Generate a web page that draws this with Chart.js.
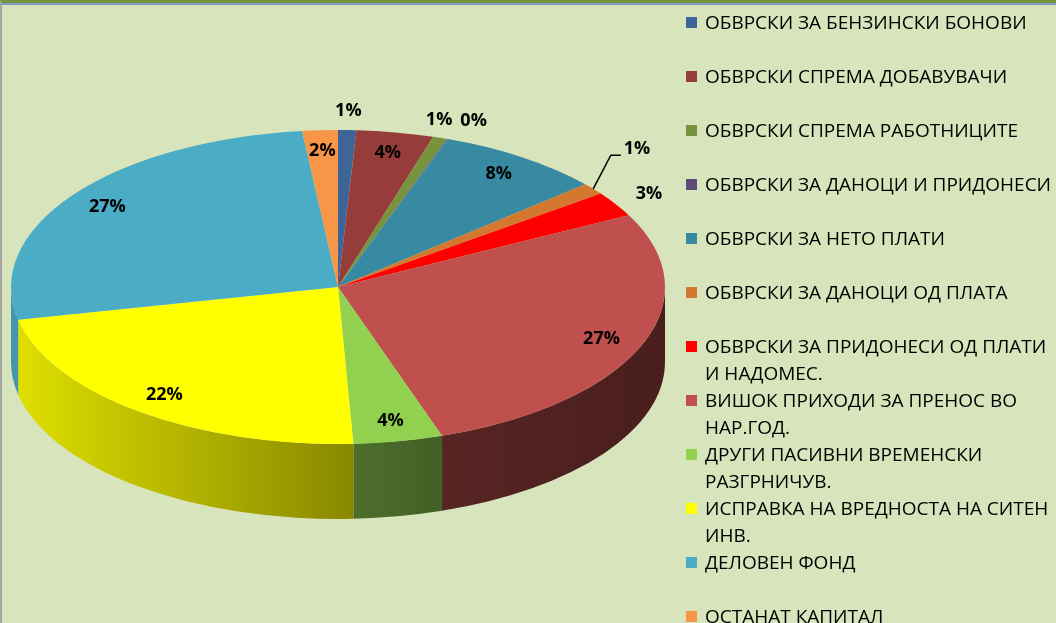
<!DOCTYPE html>
<html>
<head>
<meta charset="utf-8">
<script src="https://cdn.jsdelivr.net/npm/chart.js@4/dist/chart.umd.min.js"></script>
<style>
  html, body { margin: 0; padding: 0; }
  body { width: 1056px; height: 623px; overflow: hidden; background: #d8e4bc; position: relative; font-family: 'Open Sans', sans-serif; }
  #frame { position: absolute; left: 0; top: 0; width: 1056px; height: 623px; box-sizing: border-box; border-top: 3px solid #77933c; border-left: 2px solid #a6a6a6; }
  #frame:before { content: ''; position: absolute; left: 0; right: 0; top: 0; height: 2px; background: #7f9dc3; }
  canvas { position: absolute; left: 0; top: 0; }
  #legend { position: absolute; left: 686px; top: 9px; }
  .item { height: 54px; position: relative; padding-left: 19px; line-height: 27px; font-size: 19px; color: #000; white-space: nowrap; }
  .item .box { position: absolute; left: 0; top: 8px; width: 11px; height: 11px; }
</style>
</head>
<body>
<div id="frame"></div>
<canvas id="grafico" width="1056" height="623"></canvas>
<div id="legend"></div>
<script>
// categories (long ones split in two lines like in the legend)
const categories = [
  ['ОБВРСКИ ЗА БЕНЗИНСКИ БОНОВИ'],
  ['ОБВРСКИ СПРЕМА ДОБАВУВАЧИ'],
  ['ОБВРСКИ СПРЕМА РАБОТНИЦИТЕ'],
  ['ОБВРСКИ ЗА ДАНОЦИ И ПРИДОНЕСИ'],
  ['ОБВРСКИ ЗА НЕТО ПЛАТИ'],
  ['ОБВРСКИ ЗА ДАНОЦИ ОД ПЛАТА'],
  ['ОБВРСКИ ЗА ПРИДОНЕСИ ОД ПЛАТИ', 'И НАДОМЕС.'],
  ['ВИШОК ПРИХОДИ ЗА ПРЕНОС ВО', 'НАР.ГОД.'],
  ['ДРУГИ ПАСИВНИ ВРЕМЕНСКИ', 'РАЗГРНИЧУВ.'],
  ['ИСПРАВКА НА ВРЕДНОСТА НА СИТЕН', 'ИНВ.'],
  ['ДЕЛОВЕН ФОНД'],
  ['ОСТАНАТ КАПИТАЛ']
];
// shares in %
const values = [0.9, 3.8, 0.7, 0.05, 8.2, 1.2, 2.6, 27.4, 4.4, 22.4, 26.6, 1.75];
const colors = ['#3e6597', '#963c3a', '#77933c', '#604a7b', '#378aa2', '#d5782f',
                '#ff0000', '#c0504d', '#92d050', '#ffff00', '#4bacc6', '#f79646'];
// where excel put each data label ("best fit")
const labelOutside = [true, false, true, true, false, true, true, false, false, false, false, false];

const SX = 327 / 157;  // horizontal stretch -> ellipse
const DEPTH = 75;      // height of the side wall

function shade(hex, f) {
  const n = parseInt(hex.slice(1), 16);
  const r = Math.round(((n >> 16) & 255) * f);
  const g = Math.round(((n >> 8) & 255) * f);
  const b = Math.round((n & 255) * f);
  return 'rgb(' + r + ',' + g + ',' + b + ')';
}

const total = values.reduce((a, b) => a + b, 0);

const pie3d = {
  id: 'pie3d',
  beforeDatasetsDraw(chart) {
    const ctx = chart.ctx;
    const arcs = chart.getDatasetMeta(0).data;
    const cx = arcs[0].x, cy = arcs[0].y, r = arcs[0].outerRadius;
    ctx.save();
    ctx.translate(cx, cy);
    ctx.scale(SX, 1);
    ctx.translate(-cx, -cy);
    // side wall: only the front half (0..PI) can be seen
    arcs.forEach((arc, i) => {
      const s = Math.max(arc.startAngle, 0);
      const e = Math.min(arc.endAngle, Math.PI);
      if (e <= s) return;
      const g = ctx.createLinearGradient(cx - r, 0, cx + r, 0);
      g.addColorStop(0, shade(colors[i], 0.88));
      g.addColorStop(0.5, shade(colors[i], 0.55));
      g.addColorStop(0.65, shade(colors[i], 0.46));
      g.addColorStop(1, shade(colors[i], 0.38));
      ctx.beginPath();
      ctx.arc(cx, cy, r, s, e);
      ctx.arc(cx, cy + DEPTH, r, e, s, true);
      ctx.closePath();
      ctx.fillStyle = g;
      ctx.fill();
    });
  },
  afterDatasetsDraw(chart) {
    const ctx = chart.ctx;
    ctx.restore();
    const arcs = chart.getDatasetMeta(0).data;
    const cx = arcs[0].x, cy = arcs[0].y, r = arcs[0].outerRadius;
    const pos = (f, ang) => ({ x: cx + SX * r * f * Math.cos(ang), y: cy + r * f * Math.sin(ang) });

    ctx.save();
    ctx.font = 'bold 18px "Open Sans"';
    ctx.textAlign = 'center';
    ctx.textBaseline = 'middle';
    ctx.fillStyle = '#000';
    const H = 18;

    const labels = arcs.map((arc, i) => {
      const txt = Math.round(values[i] / total * 100) + '%';
      const mid = (arc.startAngle + arc.endAngle) / 2;
      const p = pos(labelOutside[i] ? 1.12 : 0.87, mid);
      return { txt, w: ctx.measureText(txt).width, x: p.x, y: p.y, mid, out: labelOutside[i] };
    });

    // outside labels of neighbouring slices must not overlap
    for (let i = 0; i < labels.length - 1; i++) {
      const a = labels[i], b = labels[i + 1];
      if (!a.out || !b.out) continue;
      const overlapX = (a.w + b.w) / 2 + 8 - Math.abs(a.x - b.x);
      const overlapY = H + 4 - Math.abs(a.y - b.y);
      if (overlapX <= 0 || overlapY <= 0) continue;
      if (Math.abs(Math.cos(a.mid)) < 0.6) {
        // near the top: spread sideways
        a.x -= overlapX / 2;
        b.x += overlapX / 2;
      } else {
        // lift the first one and connect it with a leader line
        a.y = b.y - 2.5 * H;
        a.x += a.w / 2;
        a.leader = pos(1, a.mid);
      }
    }

    labels.forEach(l => {
      if (l.leader) {
        const lx = l.x - l.w / 2 - 3;
        ctx.beginPath();
        ctx.moveTo(l.leader.x, l.leader.y);
        ctx.lineTo(lx - 10, l.y + 6);
        ctx.lineTo(lx, l.y + 6);
        ctx.strokeStyle = '#000';
        ctx.lineWidth = 1.5;
        ctx.stroke();
      }
      ctx.fillText(l.txt, l.x, l.y);
    });
    ctx.restore();
  }
};

new Chart(document.getElementById('grafico'), {
  type: 'pie',
  data: {
    labels: categories,
    datasets: [{
      data: values,
      backgroundColor: colors,
      borderWidth: 0,
      hoverOffset: 0,
      offset: 0,
      clip: false
    }]
  },
  options: {
    responsive: false,
    animation: false,
    events: [],
    rotation: 0,
    layout: { padding: { left: 181, right: 561, top: 130, bottom: 179 } },
    plugins: {
      legend: { display: false },
      tooltip: { enabled: false }
    }
  },
  plugins: [pie3d]
});

// legend on the right
const legend = document.getElementById('legend');
categories.forEach((lines, i) => {
  const item = document.createElement('div');
  item.className = 'item';
  item.innerHTML = '<span class="box" style="background:' + colors[i] + '"></span>' + lines.join('<br>');
  legend.appendChild(item);
});
</script>
</body>
</html>
